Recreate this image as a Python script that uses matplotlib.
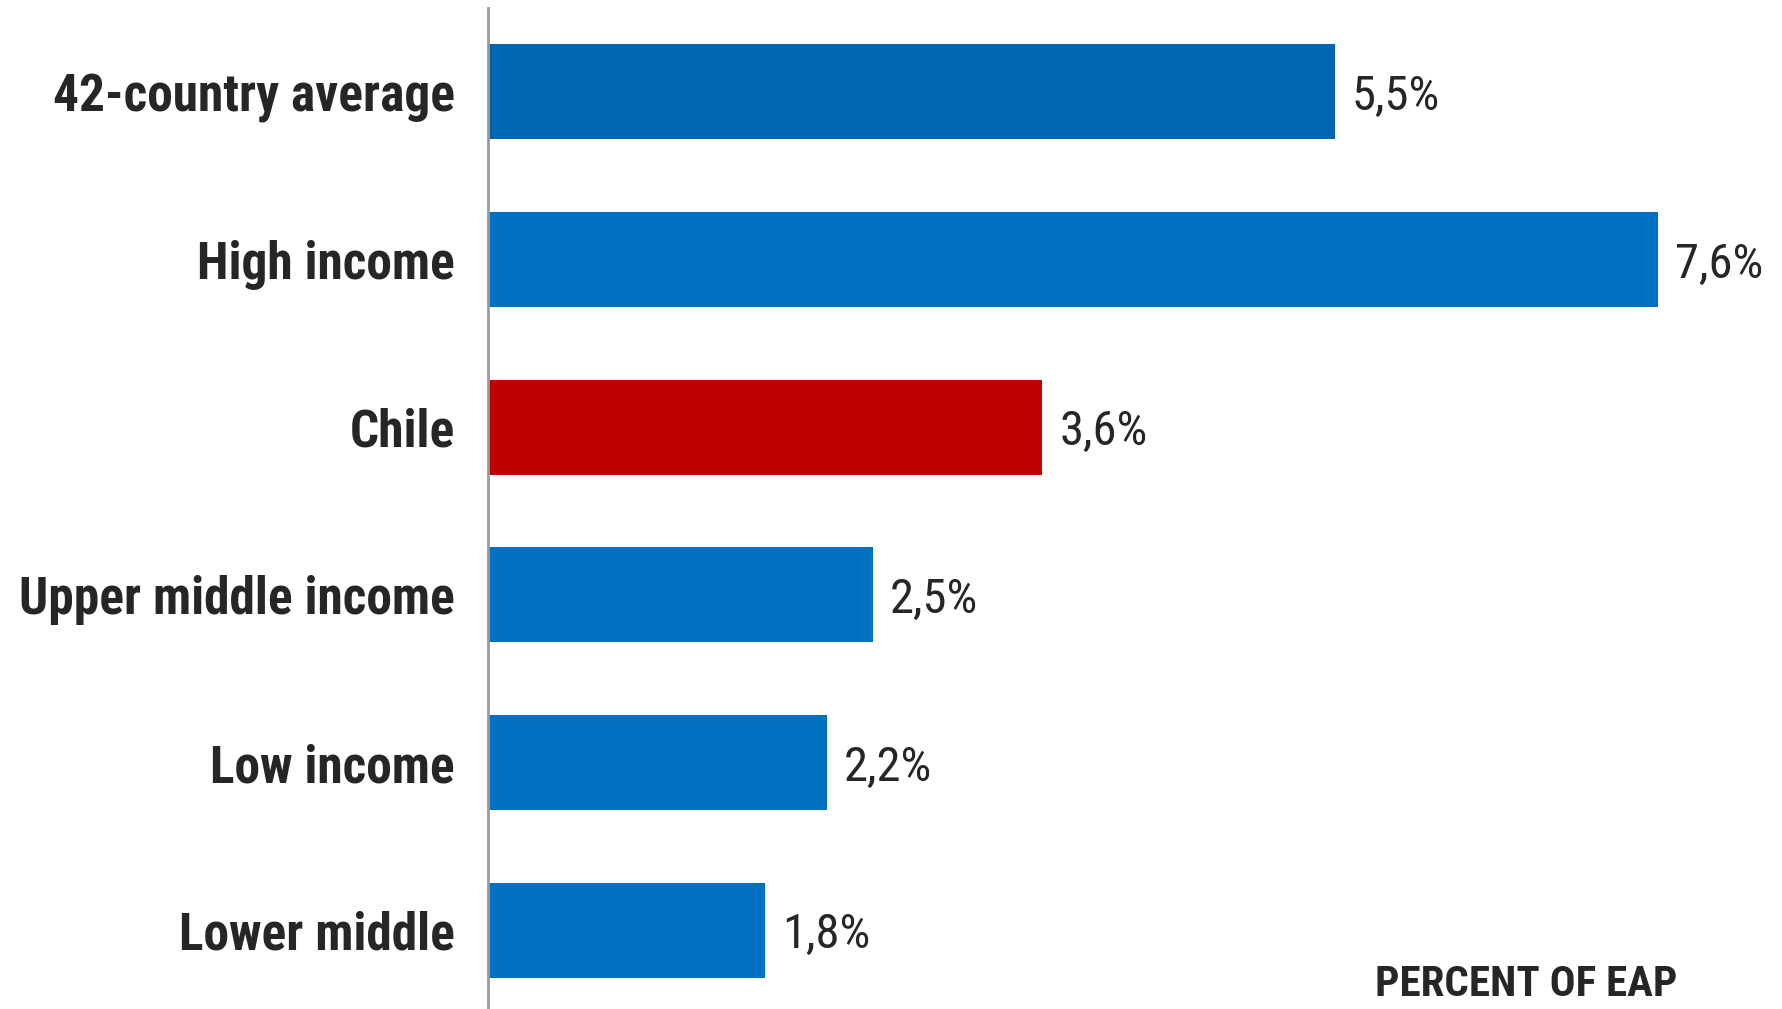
"""
Horizontal bar chart - share of EAP by income group
"""
import matplotlib
matplotlib.use('Agg')
import matplotlib.pyplot as plt

categories = ['42-country average', 'High income', 'Chile',
              'Upper middle income', 'Low income', 'Lower middle']
values = [5.5, 7.6, 3.6, 2.5, 2.2, 1.8]
value_labels = ['5,5%', '7,6%', '3,6%', '2,5%', '2,2%', '1,8%']
colors = ['#0066B3', '#0070C0', '#C00000', '#0070C0', '#0070C0', '#0070C0']

# condensed face close to Arial Narrow
plt.rcParams['font.family'] = ['Roboto Condensed', 'Archivo Narrow', 'DejaVu Sans']

fig = plt.figure(figsize=(17.83, 10.09), dpi=100, facecolor='white')
ax = fig.add_axes([488 / 1783, 0.0, 1 - 488 / 1783, 1 - 8 / 1009])

y = list(range(len(categories)))
ax.barh(y, values, height=0.567, color=colors)

# value labels right of each bar
for yi, v, lab in zip(y, values, value_labels):
    ax.text(v + 0.11, yi, lab, va='center_baseline', ha='left', fontsize=35,
            color='#262626')

ax.set_xlim(0, 8.41)
ax.set_ylim(5.47, -0.5)
ax.set_yticks(y)
ax.set_yticklabels(categories, fontsize=37, fontweight='bold', color='#262626')
ax.tick_params(axis='y', length=0, pad=24)
ax.set_xticks([])

for side in ['top', 'right', 'bottom']:
    ax.spines[side].set_visible(False)
ax.spines['left'].set_color('#9a9a9a')
ax.spines['left'].set_linewidth(2)

fig.text(1375 / 1783, 1 - 996 / 1009, 'PERCENT OF EAP', fontsize=31,
         fontweight='bold', color='#262626', ha='left', va='baseline')

fig.savefig('out.png', dpi=100, facecolor='white')
